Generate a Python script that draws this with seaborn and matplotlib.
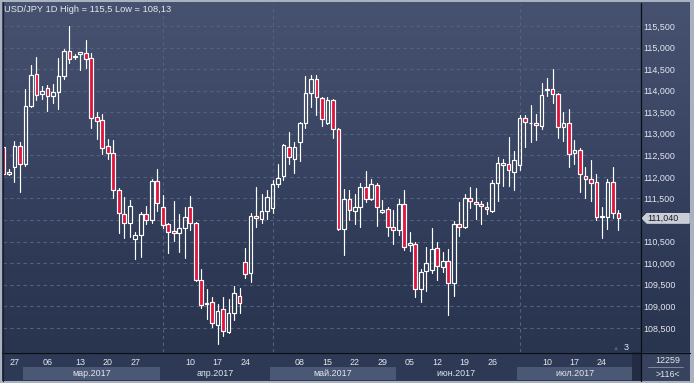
import numpy as np
import pandas as pd
import matplotlib
matplotlib.use("Agg")
import matplotlib.pyplot as plt
import seaborn as sns
from matplotlib.patches import Polygon, Rectangle
from matplotlib.lines import Line2D
from matplotlib.colors import LinearSegmentedColormap
from matplotlib.ticker import FixedLocator, FuncFormatter
import matplotlib.transforms as mtransforms

# ---------------- data (USD/JPY daily candles) ----------------
opens = [112.70, 112.06, 112.22, 112.71, 112.29, 113.64, 114.38, 113.92, 114.06, 113.87,
         113.98, 114.33, 114.91, 114.78, 114.86, 114.88, 114.75, 113.38, 113.31, 112.71,
         112.55, 111.69, 111.15, 110.93, 110.56, 110.65, 111.14, 111.00, 111.91, 111.30,
         110.91, 110.75, 110.69, 110.81, 111.30, 110.93, 109.61, 109.05, 109.11, 108.56,
         108.93, 108.41, 108.84, 109.25, 110.02, 109.77, 111.09, 111.02, 111.22, 111.27,
         111.83, 112.01, 112.70, 112.41, 112.82, 113.24, 113.95, 114.26, 113.82, 113.26,
         113.78, 113.11, 110.80, 111.48, 111.22, 111.30, 111.76, 111.48, 111.81, 111.18,
         111.25, 110.83, 110.76, 111.37, 110.42, 110.44, 109.40, 109.81, 109.83, 110.36,
         109.92, 110.05, 109.55, 110.90, 110.83, 111.51, 111.43, 111.37, 111.31, 111.20,
         111.85, 112.28, 112.29, 112.12, 112.27, 113.36, 113.24, 113.24, 113.17, 114.01,
         114.03, 113.92, 113.15, 113.26, 112.55, 112.62, 112.03, 111.95, 111.89, 111.06,
         111.08, 111.89, 111.16]
highs = [112.72, 112.18, 112.83, 112.80, 114.04, 114.60, 114.77, 114.11, 114.13, 114.15,
         114.75, 114.97, 115.50, 114.85, 114.90, 115.18, 114.87, 113.51, 113.47, 112.88,
         112.85, 111.74, 111.54, 111.47, 110.73, 111.18, 111.33, 111.95, 112.19, 111.58,
         110.94, 111.44, 111.14, 111.30, 111.56, 110.95, 109.86, 109.40, 109.21, 109.06,
         109.21, 109.17, 109.47, 109.42, 110.35, 111.17, 111.77, 111.61, 111.70, 111.93,
         112.30, 112.76, 113.04, 112.80, 113.28, 114.34, 114.36, 114.36, 113.86, 113.86,
         113.80, 113.13, 111.71, 111.70, 111.61, 111.85, 112.14, 111.95, 111.85, 111.47,
         111.31, 111.23, 111.48, 111.70, 110.73, 110.50, 109.86, 110.37, 110.81, 110.50,
         110.25, 110.33, 110.98, 111.43, 111.61, 111.77, 111.75, 111.45, 111.43, 111.93,
         112.47, 112.42, 112.93, 112.59, 113.44, 113.44, 113.67, 113.45, 114.17, 114.30,
         114.50, 113.94, 113.50, 113.58, 112.86, 112.67, 112.22, 112.39, 112.07, 111.31,
         111.95, 112.22, 111.24]
lows = [112.03, 112.05, 111.89, 111.66, 112.26, 113.63, 113.79, 113.80, 113.54, 113.72,
        113.58, 114.26, 114.64, 114.73, 114.47, 114.52, 113.14, 112.88, 112.53, 112.42,
        111.52, 110.71, 110.59, 110.61, 110.09, 110.15, 110.90, 110.93, 111.21, 110.82,
        110.24, 110.52, 110.27, 110.12, 110.77, 109.58, 108.96, 108.70, 108.53, 108.13,
        108.30, 108.38, 108.69, 108.85, 109.65, 109.57, 110.85, 110.93, 111.03, 111.16,
        111.76, 111.93, 112.30, 112.09, 112.38, 113.13, 113.63, 113.44, 113.17, 113.23,
        112.90, 110.77, 110.19, 111.00, 110.91, 110.85, 111.43, 111.47, 110.86, 111.16,
        110.63, 110.45, 110.65, 110.31, 110.29, 109.21, 109.11, 109.36, 109.77, 109.60,
        109.80, 108.80, 109.24, 110.62, 110.81, 111.29, 111.03, 110.90, 111.14, 111.18,
        111.44, 111.80, 111.80, 111.70, 112.16, 112.70, 112.80, 112.86, 113.11, 113.88,
        113.71, 112.91, 112.83, 112.24, 112.29, 111.66, 111.51, 111.45, 110.99, 110.59,
        110.79, 111.04, 110.76]
closes = [112.06, 112.11, 112.71, 112.29, 113.65, 114.36, 113.90, 113.99, 113.87, 113.98,
          114.33, 114.91, 114.73, 114.80, 114.89, 114.73, 113.36, 113.30, 112.68, 112.55,
          111.69, 111.16, 110.93, 111.33, 110.65, 111.14, 111.00, 111.91, 111.39, 110.88,
          110.73, 110.69, 110.81, 111.07, 110.93, 109.61, 109.03, 109.08, 108.61, 108.90,
          108.43, 108.84, 109.30, 109.07, 109.74, 111.10, 111.05, 111.22, 111.53, 111.83,
          111.97, 112.73, 112.46, 112.69, 113.24, 113.95, 114.26, 113.85, 113.34, 113.78,
          113.11, 110.80, 111.48, 111.23, 111.30, 111.76, 111.48, 111.83, 111.31, 111.23,
          110.83, 110.76, 111.37, 110.38, 110.46, 109.40, 109.79, 110.00, 110.32, 109.94,
          110.05, 109.55, 110.90, 110.85, 111.51, 111.45, 111.37, 111.32, 111.25, 111.85,
          112.32, 112.32, 112.15, 112.39, 113.36, 113.27, 113.26, 113.20, 113.90, 114.04,
          113.92, 113.15, 113.26, 112.53, 112.62, 112.06, 111.95, 111.87, 111.08, 111.09,
          111.88, 111.16, 111.04]

day_tick_idx = [2, 8, 14, 19, 24, 34, 39, 44, 54, 59, 64, 69, 74, 79, 84, 89, 99, 104, 109]
day_tick_labels = ["27", "06", "13", "20", "27", "10", "17", "24", "08", "15", "22", "29",
                   "05", "12", "19", "26", "10", "17", "24"]
week_grid_idx = [2, 8, 14, 19, 24, 29, 34, 39, 44, 49, 54, 59, 64, 69, 74, 79, 84, 89, 94,
                 99, 104, 109]
month_labels = ["мар.2017", "апр.2017", "май.2017", "июн.2017", "июл.2017"]
month_first_idx = [4, 29, 49, 72, 94]
month_last_idx = [28, 48, 71, 93, 114]
month_shaded = [True, False, True, False, True]
price_ticks = [108.5 + 0.5 * k for k in range(15)]
title_text = "USD/JPY 1D High = 115,5 Low = 108,13"
last_price = 111.04
last_price_text = "111,040"
corner_top = "12259"
corner_bottom = ">116<"
marker_count = "3"

# ---------------- style ----------------
sns.set_theme(style="dark")
plt.rcParams["font.family"] = ["Liberation Sans", "DejaVu Sans"]
TXT = "#e3e7ee"
GRID = "#55627e"
RED = "#e0153d"
FS = 6.4

W, H = 694, 383
fig = plt.figure(figsize=(W / 100, H / 100), dpi=100)
fig.patch.set_facecolor("#aab1bf")


def rect(x0, y0, x1, y1):
    return [x0 / W, 1 - y1 / H, (x1 - x0) / W, (y1 - y0) / H]


# gradient background
bg = fig.add_axes(rect(2, 2, 690, 381))
cmap = LinearSegmentedColormap.from_list("bg", ["#46526f", "#3b4765", "#2e3a56", "#28334d"])
bg.imshow(np.linspace(0, 1, 256)[:, None], aspect="auto", cmap=cmap,
          extent=[0, 1, 0, 1], origin="upper")
bg.set_axis_off()

# bottom date strip
bx = fig.add_axes(rect(3, 352, 641, 381))
bx.set_facecolor("#2d3955")
xlim = (-0.09, 116.12)
bx.set_xlim(*xlim)
bx.set_ylim(0, 1)
for lab, a, b, sh in zip(month_labels, month_first_idx, month_last_idx, month_shaded):
    if sh:
        bx.axvspan(a - 0.5, b + 0.5, ymin=0.04, ymax=0.48, color="#4a5775", lw=0)
    bx.text((a + b) / 2, 0.25, lab, ha="center", va="center", color=TXT, fontsize=FS)
bx.set_xticks([])
bx.set_yticks([])
for s in bx.spines.values():
    s.set_visible(False)
# scrollbar block
bx.add_patch(Rectangle((0.9865, 0.0), 0.0135, 1.0, transform=bx.transAxes,
                       color="#232c42", lw=0))

# main chart
ax = fig.add_axes(rect(3, 4, 641, 352))
ax.set_facecolor("none")
ax.set_xlim(*xlim)
ax.set_ylim(107.94, 116.01)

df = pd.DataFrame({"o": opens, "h": highs, "l": lows, "c": closes})
df["i"] = np.arange(len(df))
df["top"] = df[["o", "c"]].max(axis=1)
df["bot"] = df[["o", "c"]].min(axis=1)
df["up"] = df["c"] >= df["o"]

# wicks (upper and lower segments) via seaborn
rows = []
for r in df.itertuples():
    rows += [(r.i, r.h, 2 * r.i), (r.i, r.top, 2 * r.i),
             (r.i, r.bot, 2 * r.i + 1), (r.i, r.l, 2 * r.i + 1)]
wick = pd.DataFrame(rows, columns=["i", "price", "seg"])
sns.lineplot(data=wick, x="i", y="price", units="seg", estimator=None, sort=False,
             color="white", lw=0.85, ax=ax, legend=False)

# bodies
hgt = (df["top"] - df["bot"]).clip(lower=0.02)
mid = (df["top"] + df["bot"]) / 2
ax.bar(df["i"], hgt, bottom=mid - hgt / 2, width=0.68,
       color=[("none" if u else RED) for u in df["up"]],
       edgecolor="white", linewidth=0.85, zorder=3)

# axes/ticks
ax.xaxis.set_major_locator(FixedLocator(day_tick_idx))
ax.set_xticklabels(day_tick_labels)
ax.xaxis.set_minor_locator(FixedLocator(week_grid_idx))
ax.yaxis.set_major_locator(FixedLocator(price_ticks))
ax.yaxis.set_major_formatter(FuncFormatter(
    lambda v, p: "" if abs(v - 111.0) < 1e-6 else f"{v:.3f}".replace(".", ",")))
ax.yaxis.tick_right()
ax.tick_params(axis="x", which="both", length=0, pad=4.0, labelsize=FS, labelcolor=TXT)
ax.tick_params(axis="y", length=0, pad=2.0, labelsize=FS, labelcolor=TXT)
ax.grid(False)
ax.grid(True, axis="y", which="major", color=GRID, lw=0.8, ls=(0, (3, 3)))
ax.grid(True, axis="x", which="minor", color=GRID, lw=0.8, ls=(0, (3, 3)))
ax.set_axisbelow(True)
ax.set_xlabel("")
ax.set_ylabel("")
for s in ax.spines.values():
    s.set_visible(False)

ax.text(0.002, 0.983, title_text, transform=ax.transAxes, ha="left", va="center",
        color=TXT, fontsize=FS + 0.3)
ax.text(0.961, 0.011, "\u25b2", transform=ax.transAxes, ha="center", va="center",
        color="#58607a", fontsize=4.5)
ax.text(0.976, 0.013, marker_count, transform=ax.transAxes, ha="center", va="center",
        color=TXT, fontsize=FS)

# right panel overlay: last price marker
rax = fig.add_axes(rect(641, 4, 690, 352))
rax.set_facecolor("none")
rax.set_ylim(ax.get_ylim())
rax.set_xlim(0, 1)
rax.set_axis_off()
tr = mtransforms.blended_transform_factory(rax.transAxes, rax.transData)
hh = 0.115
rax.add_patch(Polygon([(0.02, last_price), (0.12, last_price + hh), (0.985, last_price + hh),
                       (0.985, last_price - hh), (0.12, last_price - hh)],
                      closed=True, transform=tr, facecolor="#c9cdd5", edgecolor="#e8eaee",
                      lw=0.5, zorder=5))
rax.text(0.12, last_price, last_price_text, transform=tr, ha="left", va="center",
         color="#1a1d26", fontsize=FS, zorder=6)

# bottom-right corner box
cx = fig.add_axes(rect(641, 352, 690, 381))
cx.set_facecolor("#36425e")
cx.set_xticks([])
cx.set_yticks([])
for s in cx.spines.values():
    s.set_visible(False)
cx.text(0.55, 0.70, corner_top, ha="center", va="center", color=TXT, fontsize=FS,
        transform=cx.transAxes)
cx.text(0.55, 0.24, corner_bottom, ha="center", va="center", color=TXT, fontsize=FS,
        transform=cx.transAxes)
cx.add_line(Line2D([0.14, 0.86], [0.48, 0.48], transform=cx.transAxes,
                   color="#8a93a8", lw=0.6))

# separator lines
fig.add_artist(Line2D([641 / W, 641 / W], [1 - 381 / H, 1 - 3 / H], color="#0b0e15", lw=0.9))
fig.add_artist(Line2D([2 / W, 690 / W], [1 - 352.5 / H, 1 - 352.5 / H], color="#0b0e15", lw=0.9))
fig.add_artist(Line2D([2.5 / W, 2.5 / W], [1 - 381 / H, 1 - 2 / H], color="#1a2030", lw=0.9))

fig.savefig("out.png", dpi=100, facecolor=fig.get_facecolor())
